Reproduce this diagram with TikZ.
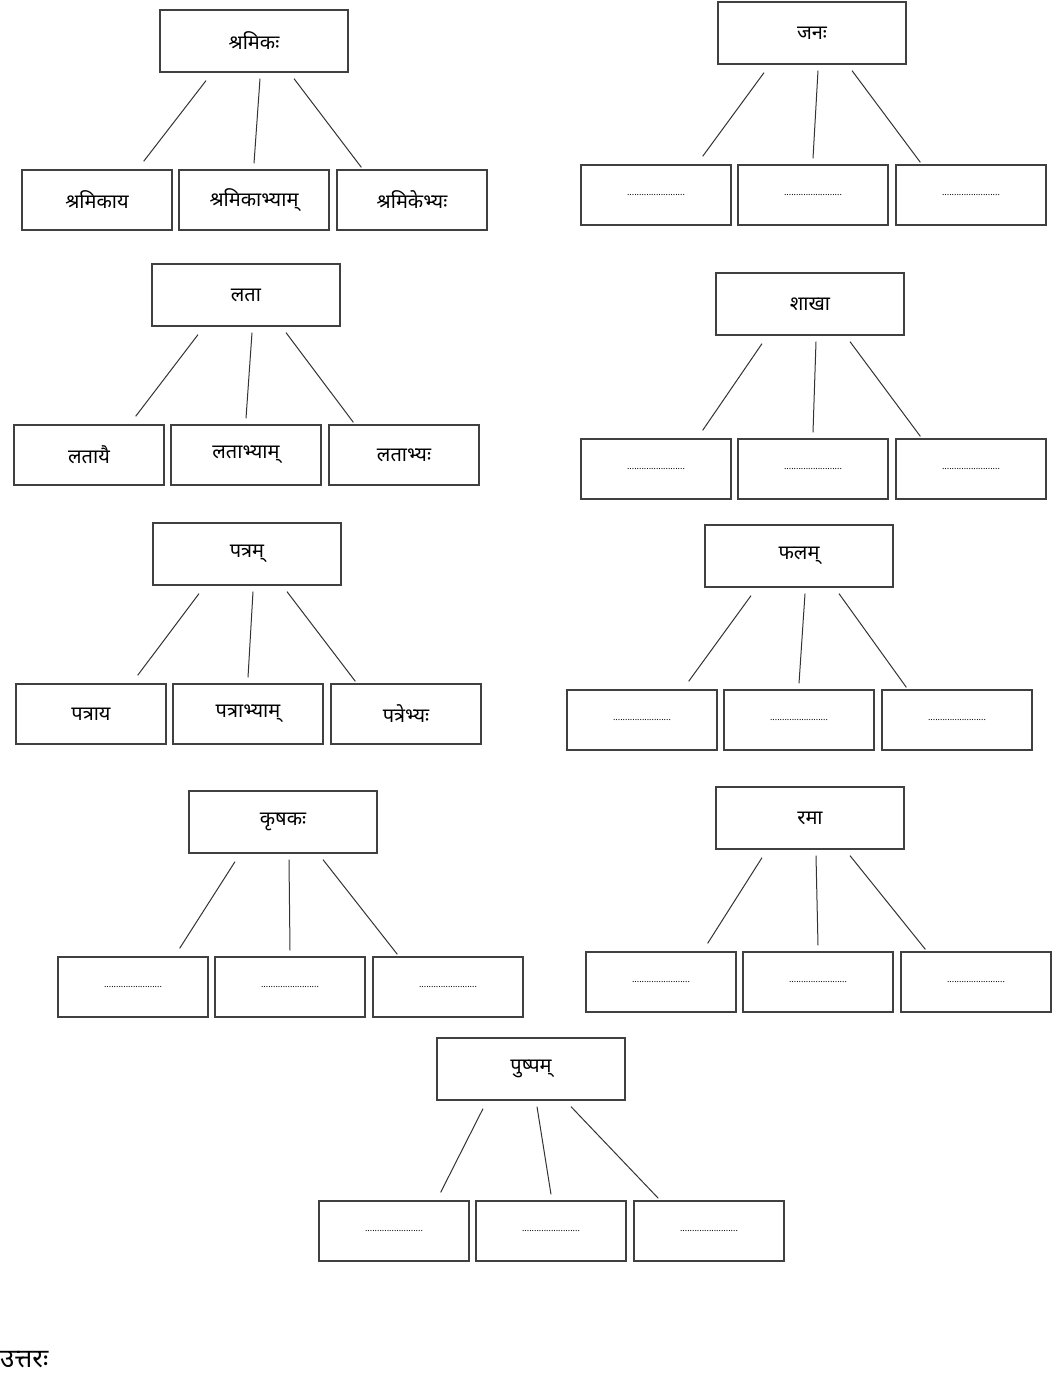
\documentclass[tikz,border=0pt]{standalone}
\usepackage{fontspec}
\newfontfamily\deva[Script=Devanagari]{Noto Sans}
\usetikzlibrary{calc}
\tikzset{
  wordbox/.style={draw=black!75, line width=1.3pt, minimum width=150pt, minimum height=60pt,
    inner sep=1pt, font=\deva\fontsize{20}{24}\selectfont},
  headbox/.style={wordbox, minimum width=188pt, minimum height=62pt},
  branch/.style={line width=1pt, black!80}
}
% name, centre x, centre y of head, left x of first box, top y of boxes, head, three forms
\newcommand\wordtree[9]{
  \node[headbox] (#1t) at (#2,#3) {#6};
  \node[wordbox] (#1a) at (#4+75,#5+30) {#7};
  \node[wordbox] (#1b) at (#4+232,#5+30) {#8};
  \node[wordbox] (#1c) at (#4+390,#5+30) {#9};
  \draw[branch] ($(#1t.south)+(-48,8)$) -- ($(#1a.north east)+(-29,-8)$);
  \draw[branch] ($(#1t.south)+(6,6)$) -- ($(#1b.north)+(0,-6)$);
  \draw[branch] ($(#1t.south)+(40,6)$) -- ($(#1c.north west)+(25,-2)$);
}
\newcommand\blank{{\fontsize{9}{10}\selectfont ........................}}
\begin{document}
\begin{tikzpicture}[x=1pt,y=-1pt]
\useasboundingbox[fill=white] (0,0) rectangle (1053,1376);

\wordtree{shr}{254}{41}{22}{170}{श्रमिकः}{श्रमिकाय}{श्रमिकाभ्याम्}{श्रमिकेभ्यः}
\wordtree{jan}{812}{33}{581}{165}{जनः}{\blank}{\blank}{\blank}
\wordtree{lat}{246}{295}{14}{425}{लता}{लतायै}{लताभ्याम्}{लताभ्यः}
\wordtree{sha}{810}{304}{581}{439}{शाखा}{\blank}{\blank}{\blank}
\wordtree{pat}{247}{554}{16}{684}{पत्रम्}{पत्राय}{पत्राभ्याम्}{पत्रेभ्यः}
\wordtree{pha}{799}{556}{567}{690}{फलम्}{\blank}{\blank}{\blank}
\wordtree{kri}{283}{822}{58}{957}{कृषकः}{\blank}{\blank}{\blank}
\wordtree{ram}{810}{818}{586}{952}{रमा}{\blank}{\blank}{\blank}
\wordtree{pus}{531}{1069}{319}{1201}{पुष्पम्}{\blank}{\blank}{\blank}

\node[anchor=west, inner sep=0pt, font=\deva\bfseries\fontsize{26}{30}\selectfont] (uttar) at (0,1360) {उत्तरः};
\end{tikzpicture}
\end{document}
